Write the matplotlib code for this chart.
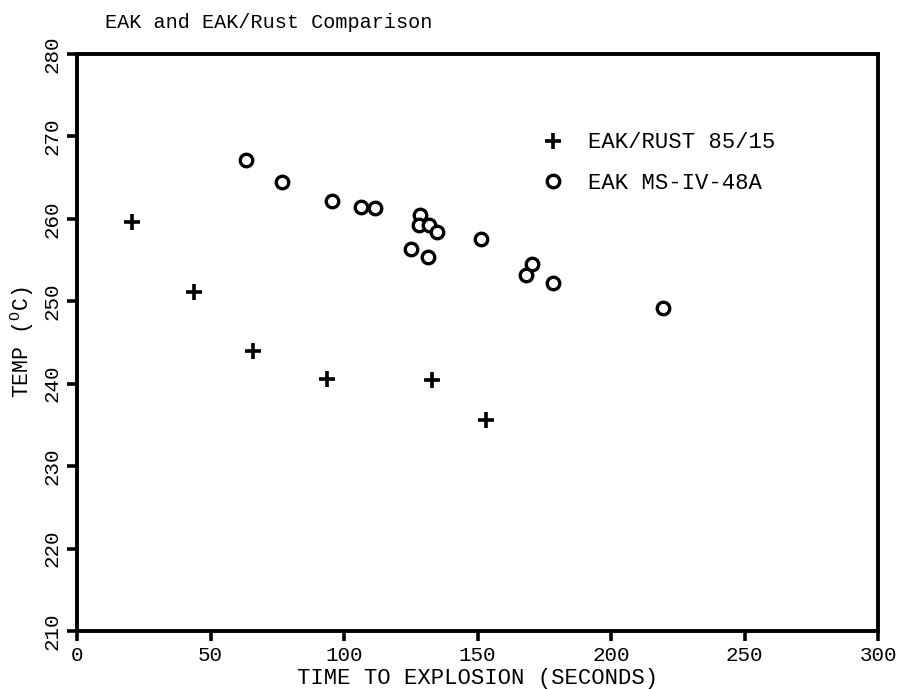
import matplotlib
matplotlib.use("Agg")
import matplotlib.pyplot as plt

# EAK/RUST 85/15 测点
rust_t = [20.6, 43.8, 66.0, 93.7, 133.0, 153.2]
rust_temp = [259.6, 251.1, 244.0, 240.6, 240.4, 235.6]

# EAK MS-IV-48A 测点
eak_t = [63.2, 76.9, 95.4, 106.3, 111.6, 128.5, 128.1, 131.8, 134.9, 125.1,
         131.3, 151.2, 170.5, 168.2, 178.4, 219.6]
eak_temp = [267.2, 264.5, 262.2, 261.4, 261.35, 260.5, 259.25, 259.3, 258.4, 256.4,
            255.4, 257.5, 254.5, 253.2, 252.2, 249.2]

x_ticks = [0, 50, 100, 150, 200, 250, 300]
y_ticks = [210, 220, 230, 240, 250, 260, 270, 280]

plt.rcParams["font.family"] = ["Liberation Mono", "DejaVu Sans Mono"]
plt.rcParams["mathtext.fontset"] = "custom"
plt.rcParams["mathtext.rm"] = "Liberation Mono"

fig = plt.figure(figsize=(8.99, 6.89), dpi=100)
ax = fig.add_axes([0.0857, 0.0842, 0.8910, 0.8374])

ax.plot(rust_t, rust_temp, ls="none", marker="+", ms=12, mew=2.6, color="black",
        label="EAK/RUST 85/15")
ax.plot(eak_t, eak_temp, ls="none", marker="o", ms=9, mew=2.4, mfc="white",
        color="black", label="EAK MS-IV-48A")

ax.set_xlim(0, 300); ax.set_ylim(210, 280)
ax.set_xticks(x_ticks); ax.set_yticks(y_ticks)
for s in ax.spines.values():
    s.set_linewidth(2.8)
ax.tick_params(direction="out", length=7, width=2.6, labelsize=15, pad=4)
ax.tick_params(axis="y", labelrotation=90)
for lbl in ax.get_yticklabels():
    lbl.set_va("center")

ax.set_xlabel("TIME TO EXPLOSION (SECONDS)", fontsize=16)
ax.set_ylabel(r"TEMP ($^{\mathrm{O}}$C)", fontsize=15.5)
ax.xaxis.set_label_coords(0.5, -0.064)
ax.yaxis.set_label_coords(-0.051, 0.5)

ax.legend(loc="upper left", bbox_to_anchor=(0.5805, 0.864), frameon=False,
          fontsize=16, handlelength=1.0, handletextpad=1.05, labelspacing=0.89,
          borderpad=0, borderaxespad=0)

fig.text(105 / 899, 1 - 22 / 689, "EAK and EAK/Rust Comparison", fontsize=14.5, va="center")

fig.savefig("out.png", dpi=100)
